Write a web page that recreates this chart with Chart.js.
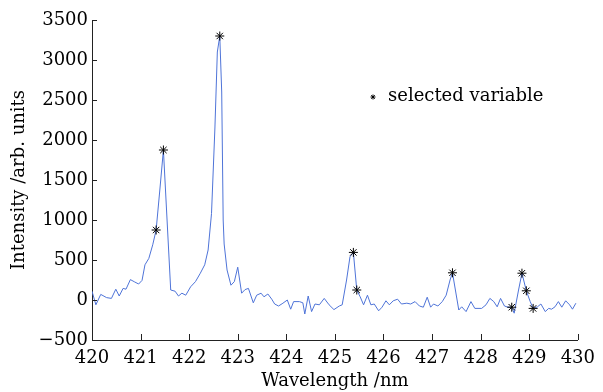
<!DOCTYPE html>
<html>
<head>
<meta charset="utf-8">
<script src="https://cdn.jsdelivr.net/npm/chart.js@4"></script>
<style>
  html, body { margin: 0; padding: 0; background: #fff; }
  canvas { display: block; }
</style>
</head>
<body>
<canvas id="chart" width="603" height="392"></canvas>
<script>
// spectrum (wavelength in nm, intensity in arb. units)
const wavelength = [
  420.00, 420.08, 420.18, 420.30, 420.40, 420.49, 420.56, 420.64, 420.70, 420.79,
  420.88, 420.96, 421.03, 421.09, 421.17, 421.25, 421.32, 421.40, 421.47, 421.62,
  421.71, 421.78, 421.85, 421.93, 422.03, 422.13, 422.23, 422.32, 422.39, 422.46,
  422.53, 422.58, 422.63, 422.67, 422.70, 422.72, 422.78, 422.86, 422.93, 423.00,
  423.08, 423.15, 423.22, 423.32, 423.39, 423.48, 423.54, 423.62, 423.70, 423.76,
  423.84, 423.93, 424.02, 424.09, 424.15, 424.27, 424.34, 424.38, 424.45, 424.52,
  424.59, 424.68, 424.78, 424.88, 424.98, 425.09, 425.15, 425.24, 425.31, 425.38,
  425.45, 425.52, 425.59, 425.67, 425.74, 425.81, 425.90, 425.97, 426.05, 426.12,
  426.20, 426.29, 426.37, 426.48, 426.56, 426.65, 426.74, 426.82, 426.90, 426.97,
  427.03, 427.12, 427.21, 427.29, 427.37, 427.42, 427.55, 427.61, 427.70, 427.80,
  427.88, 428.02, 428.11, 428.19, 428.27, 428.34, 428.41, 428.49, 428.56, 428.64,
  428.69, 428.78, 428.85, 428.94, 429.02, 429.08, 429.17, 429.24, 429.33, 429.40,
  429.46, 429.53, 429.60, 429.67, 429.75, 429.83, 429.89, 429.96
];
const intensity = [
   110,  -60,   70,   30,   20,  135,   50,  145,  135,  255,
   225,  200,  245,  440,  520,  690,  875, 1400, 1875,  125,
   110,   50,   85,   60,  165,  230,  335,  440,  625, 1080,
  2150, 3100, 3300, 2600, 1000,  700,  375,  185,  230,  410,
    85,  130,  145,  -35,   60,   85,   40,   75,   10,  -50,
   -75,  -40,    0, -115,  -20,  -20,  -35, -175,   50, -145,
   -50,  -60,   20,  -60, -120,  -75,  -60,  250,  540,  595,
   125,   40,  -60,   60,  -60,  -50, -135,  -90,  -10,  -60,
   -10,   10,  -50,  -40,  -50,  -20,  -75,  -90,   35,  -90,
   -50,  -75,  -20,   60,  250,  340, -125,  -85, -145,  -20,
  -105, -105,  -60,   20,  -20,  -85,   20,  -75,  -90,  -90,
  -165,  125,  335,  115,  -20, -105,  -85,  -50, -145, -105,
  -115,  -85,  -20,  -90,  -10,  -60, -115,  -40
];

// selected variables (stars)
const selWavelength = [421.32, 421.47, 422.63, 425.38, 425.45, 427.42, 428.64, 428.85, 428.94, 429.08];
const selIntensity  = [   875,   1875,   3300,    595,    125,    340,    -90,    335,    115,   -105];

const xTicks = [420, 421, 422, 423, 424, 425, 426, 427, 428, 429, 430];
const yTicks = [-500, 0, 500, 1000, 1500, 2000, 2500, 3000, 3500];

const legendLabel = 'selected variable';
const xTitle = 'Wavelength /nm';
const yTitle = 'Intensity /arb. units';

const FONT = '"DejaVu Serif", "Liberation Serif", serif';
const AXIS = '#222222';

// inward tick marks, like the original plot
const inwardTicks = {
    id: 'inwardTicks',
    afterDatasetsDraw(chart) {
        const { ctx, scales: { x, y }, chartArea } = chart;
        ctx.save();
        ctx.strokeStyle = AXIS;
        ctx.lineWidth = 1;
        ctx.beginPath();
        xTicks.forEach((v) => {
            const px = Math.round(x.getPixelForValue(v)) + 0.5;
            ctx.moveTo(px, chartArea.bottom);
            ctx.lineTo(px, chartArea.bottom - 6);
        });
        yTicks.forEach((v) => {
            const py = Math.round(y.getPixelForValue(v)) + 0.5;
            ctx.moveTo(chartArea.left, py);
            ctx.lineTo(chartArea.left + 5, py);
        });
        ctx.stroke();
        ctx.restore();
    },
};

// legend sitting inside the plot, no box
const innerLegend = {
    id: 'innerLegend',
    afterDraw(chart) {
        const { ctx } = chart;
        ctx.save();
        Chart.helpers.drawPoint(ctx, {
            pointStyle: 'star',
            radius: 2.5,
            borderWidth: 1,
        }, 373, 97);
        ctx.fillStyle = '#000';
        ctx.font = '18px ' + FONT;
        ctx.textBaseline = 'middle';
        ctx.textAlign = 'left';
        ctx.fillText(legendLabel, 388, 96);
        ctx.restore();
    },
};

new Chart(document.getElementById('chart'), {
    type: 'line',
    data: {
        datasets: [
            {
                label: legendLabel,
                data: selWavelength.map((w, i) => ({ x: w, y: selIntensity[i] })),
                showLine: false,
                pointStyle: 'star',
                pointRadius: 4.5,
                pointBorderWidth: 1,
                pointBorderColor: '#000',
                pointBackgroundColor: '#000',
            },
            {
                label: 'spectrum',
                data: wavelength.map((w, i) => ({ x: w, y: intensity[i] })),
                borderColor: '#4f74d8',
                borderWidth: 1,
                pointRadius: 0,
                tension: 0,
            },
        ],
    },
    options: {
        responsive: false,
        animation: false,
        layout: { padding: { top: 20, right: 20, left: 0, bottom: 0 } },
        plugins: {
            legend: { display: false },
            tooltip: { enabled: false },
        },
        scales: {
            x: {
                type: 'linear',
                min: 420,
                max: 430,
                afterFit: (s) => { s.height = 52; },
                afterBuildTicks: (s) => { s.ticks = xTicks.map((v) => ({ value: v })); },
                grid: { display: false, drawTicks: false },
                border: { display: true, color: AXIS, width: 1 },
                ticks: {
                    color: '#000',
                    padding: 8,
                    maxRotation: 0,
                    font: { family: FONT, size: 18 },
                    callback: (v) => String(v),
                },
                title: {
                    display: true,
                    text: xTitle,
                    color: '#000',
                    padding: { top: 0, bottom: 0 },
                    font: { family: FONT, size: 18 },
                },
            },
            y: {
                min: -500,
                max: 3500,
                afterFit: (s) => { s.width = 92; },
                afterBuildTicks: (s) => { s.ticks = yTicks.map((v) => ({ value: v })); },
                grid: { display: false, drawTicks: false },
                border: { display: true, color: AXIS, width: 1 },
                ticks: {
                    color: '#000',
                    padding: 4,
                    font: { family: FONT, size: 18 },
                    callback: (v) => String(v).replace('-', '\u2212'),
                },
                title: {
                    display: true,
                    text: yTitle,
                    color: '#000',
                    padding: { top: 9, bottom: 0 },
                    font: { family: FONT, size: 18 },
                },
            },
        },
    },
    plugins: [inwardTicks, innerLegend],
});
</script>
</body>
</html>
